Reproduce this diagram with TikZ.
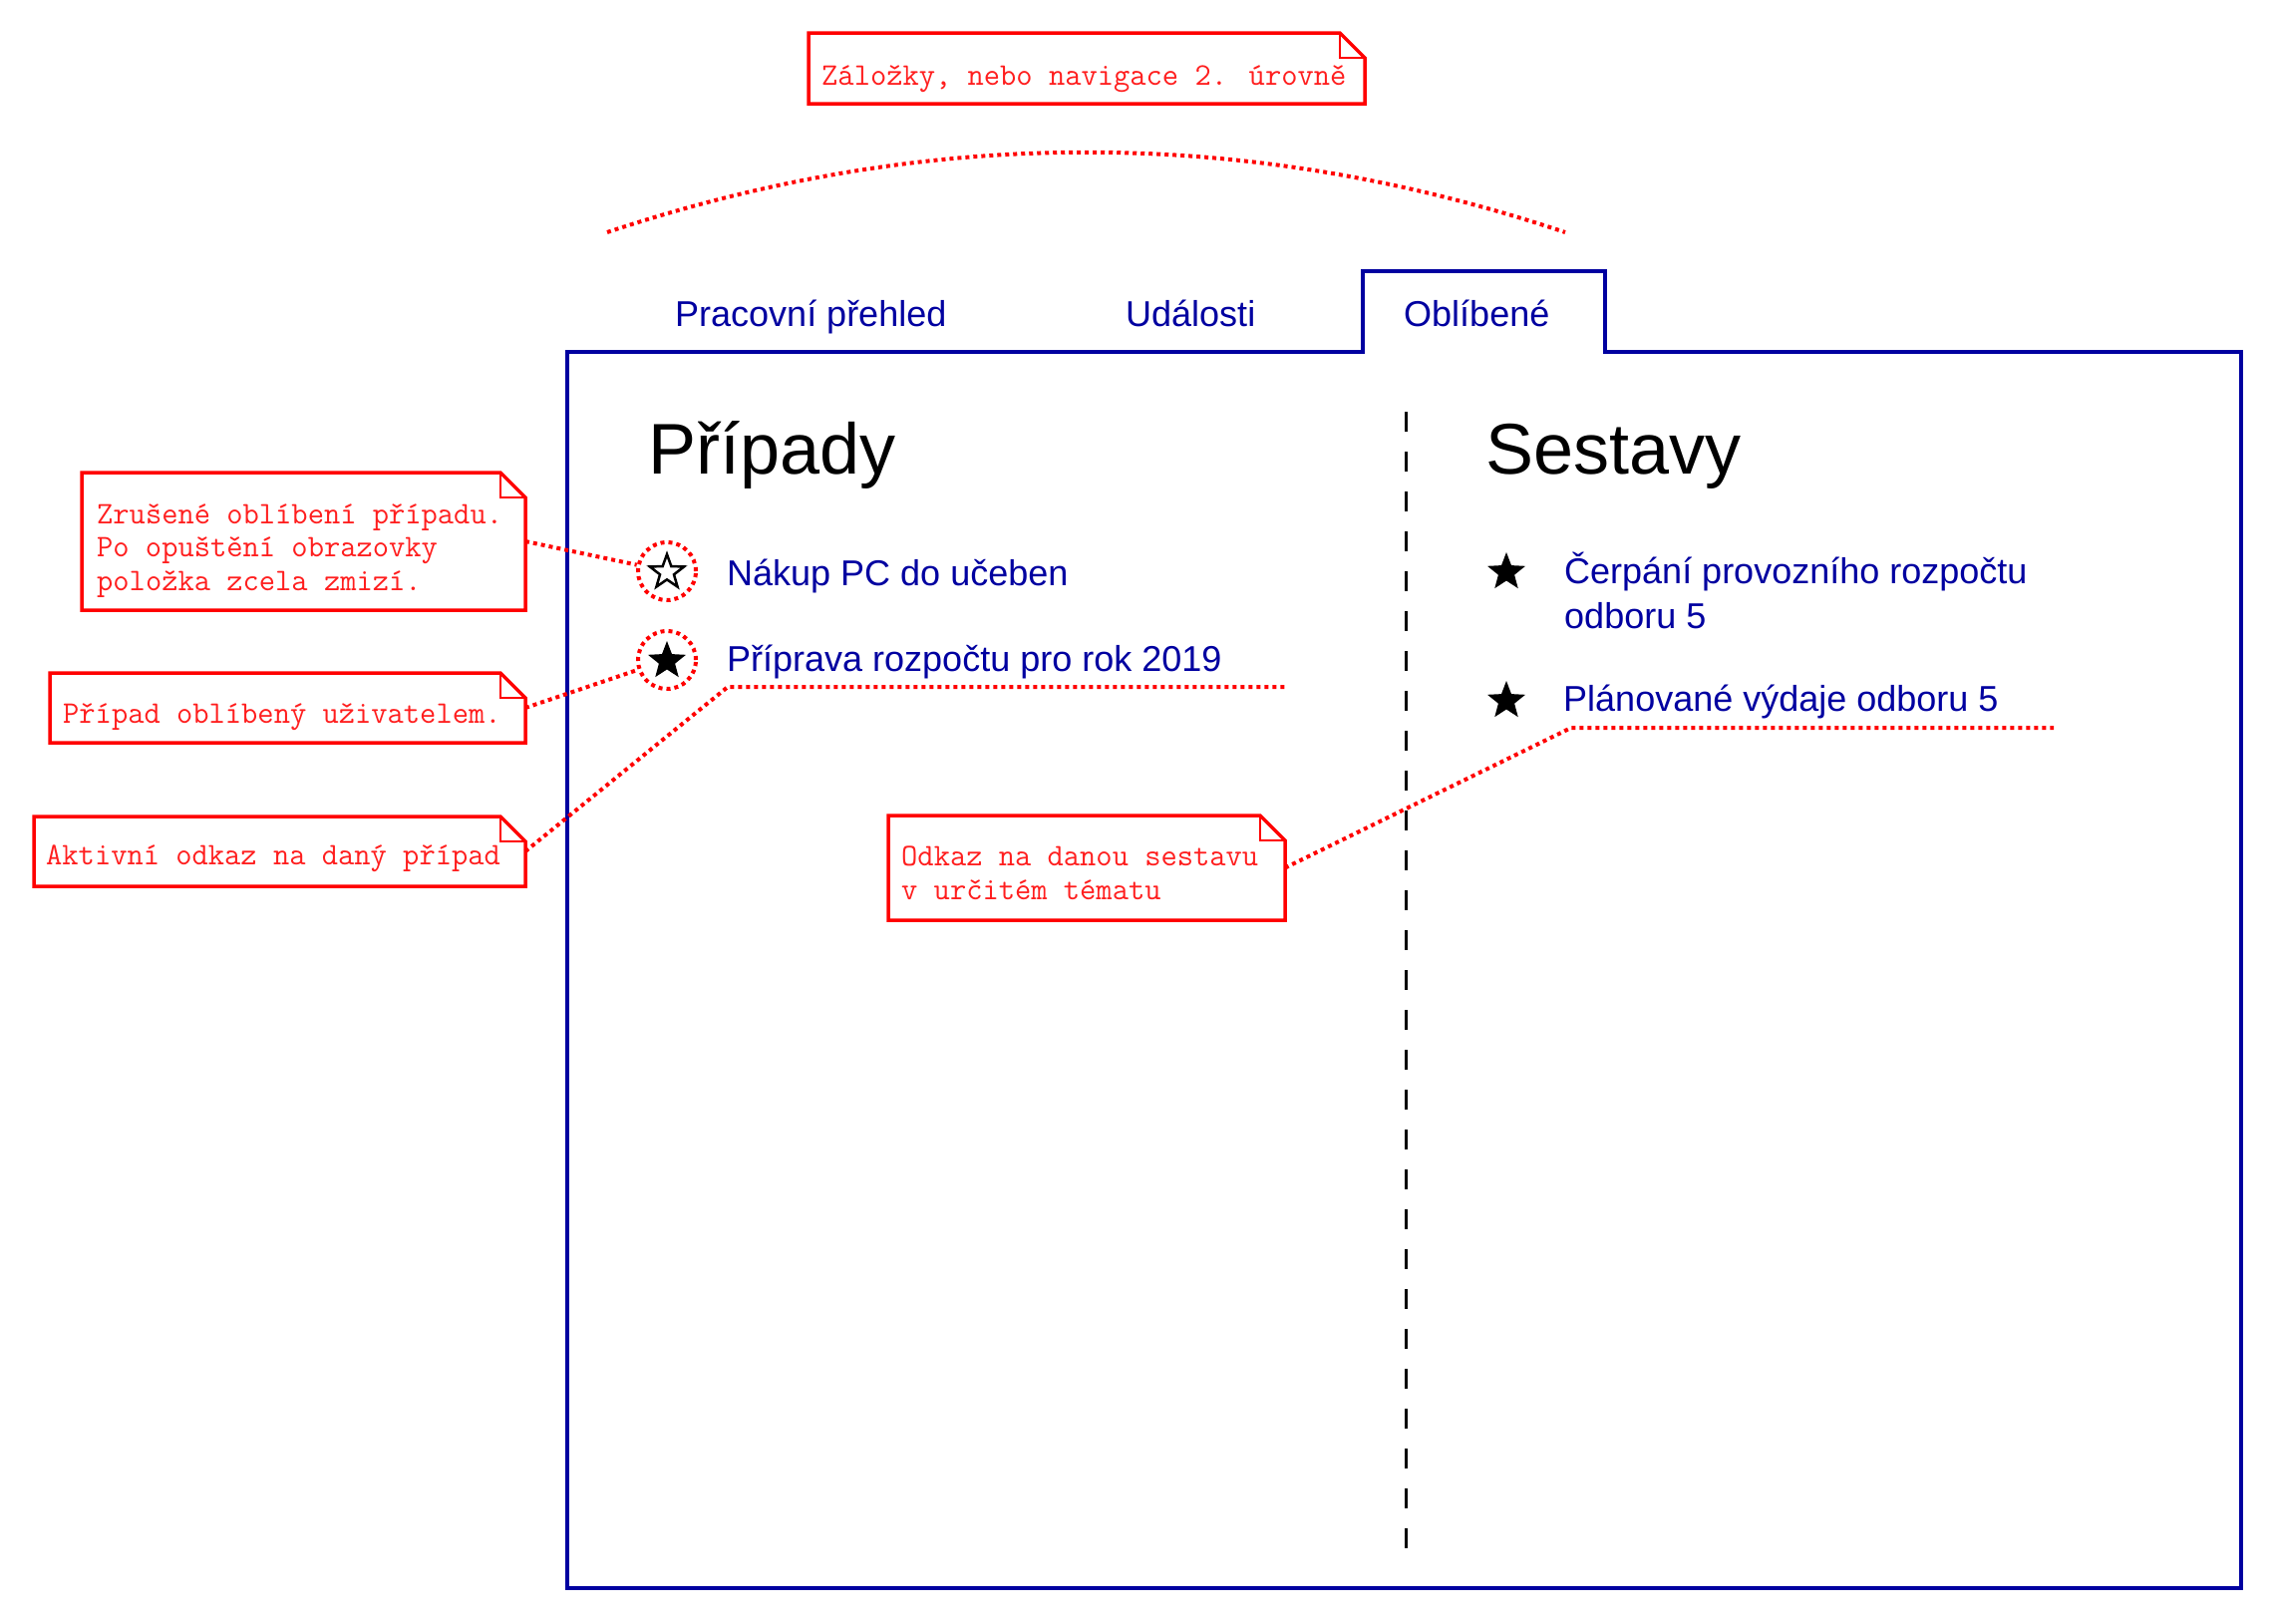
\documentclass[tikz,border=0pt]{standalone}
\usepackage{fontspec}
\setmainfont{Liberation Sans}
\usetikzlibrary{shapes.geometric}
\definecolor{navy}{RGB}{0,0,160}
\definecolor{nred}{RGB}{255,0,0}
\definecolor{ntext}{RGB}{255,30,30}
\newcommand\dogear[1]{%
  \draw[notestroke] (#1.south west) -- (#1.north west) -- ([xshift=-25pt]#1.north east) -- ([yshift=-25pt]#1.north east) -- (#1.south east) -- cycle;
  \draw[notestroke, line width=2pt] ([xshift=-25pt]#1.north east) |- ([yshift=-25pt]#1.north east);
}
\begin{document}
\begin{tikzpicture}[x=1pt,y=-1pt,
  notebox/.style={draw=none, rectangle, inner sep=0pt, outer sep=0pt, anchor=north west},
  notestroke/.style={draw=nred, line width=3.5pt, line join=miter},
  notetext/.style={text=ntext, font=\ttfamily\fontsize{31.6}{33.5}\selectfont, anchor=base west, inner sep=0pt, align=left},
  reddot/.style={draw=nred, line width=4pt, dash pattern=on 4pt off 4pt},
  item/.style={text=navy, font=\fontsize{36}{45}\selectfont, anchor=base west, inner sep=0pt, align=left},
  tablabel/.style={text=navy, font=\fontsize{36}{42}\selectfont, anchor=base west, inner sep=0pt},
  heading/.style={text=black, font=\fontsize{72}{86}\selectfont, anchor=base west, inner sep=0pt},
  favstar/.style={star, star points=5, star point ratio=2.35, minimum size=40pt, inner sep=0pt, fill=black, draw=none},
  emptystar/.style={star, star points=5, star point ratio=2.45, minimum size=36pt, inner sep=0pt, fill=white, draw=black, line width=2.5pt},
  ring/.style={circle, minimum size=58pt, inner sep=0pt, reddot}
]
\useasboundingbox (0,0) rectangle (2284,1628);

% main frame with tab
\draw[navy, line width=3.3pt, line join=miter] (569,353) -- (1367,353) -- (1367,272) -- (1610,272) -- (1610,353) -- (2248,353) -- (2248,1593) -- (569,1593) -- cycle;

% tab labels
\node[tablabel] (tab1) at (677,327) {Pracovní přehled};
\node[tablabel] (tab2) at (1129,327) {Události};
\node[tablabel] (tab3) at (1408,327) {Oblíbené};

% divider
\coordinate (divtop) at (1410,413);
\coordinate (divbot) at (1410,1553);
\draw[black, line width=3pt, dash pattern=on 20pt off 20pt] (divtop) -- (divbot);

% headings
\node[heading] (hcases) at (650,475) {Případy};
\node[heading] (hrep) at (1490,475) {Sestavy};

% left items
\node[ring] (c1) at (669,573) {};
\node[emptystar] (s1) at (669,574) {};
\node[ring] (c2) at (669,662) {};
\node[favstar] (s2) at (669,663) {};
\node[item] (i1) at (729,587) {Nákup PC do učeben};
\node[item] (i2) at (729,673) {Příprava rozpočtu pro rok 2019};

% right items
\node[favstar] (s3) at (1511,574) {};
\node[favstar] (s4) at (1511,703) {};
\node[item] (i3) at (1569,630) {Čerpání provozního rozpočtu\\odboru 5};
\node[item] (i4) at (1568,713) {Plánované výdaje odboru 5};

% notes
\node[notebox, minimum width=558pt, minimum height=71pt] (n0) at (811,33) {};
\dogear{n0}
\node[notetext] (t0) at (824,85) {Záložky, nebo navigace 2. úrovně};

\node[notebox, minimum width=445pt, minimum height=138pt] (n1) at (82,474) {};
\dogear{n1}
\node[notetext] (t1) at (97,592) {Zrušené oblíbení případu.\\Po opuštění obrazovky\\položka zcela zmizí.};

\node[notebox, minimum width=477pt, minimum height=70pt] (n2) at (50,675) {};
\dogear{n2}
\node[notetext] (t2) at (63,725) {Případ oblíbený uživatelem.};

\node[notebox, minimum width=493pt, minimum height=70pt] (n3) at (34,819) {};
\dogear{n3}
\node[notetext] (t3) at (46,867) {Aktivní odkaz na daný případ};

\node[notebox, minimum width=398pt, minimum height=105pt] (n4) at (891,818) {};
\dogear{n4}
\node[notetext] (t4) at (904,902) {Odkaz na danou sestavu\\v určitém tématu};

% connectors
\coordinate (arcL) at (609,233);
\coordinate (arcR) at (1570,233);
\draw[reddot] (arcL) .. controls (930,126) and (1250,126) .. (arcR);

\draw[reddot] (n1.east) -- (c1);
\draw[reddot] (n2.east) -- (c2);

\coordinate (u1a) at (730,689);
\coordinate (u1b) at (1290,689);
\draw[reddot] (n3.east) -- (u1a) -- (u1b);

\coordinate (u2a) at (1576,730);
\coordinate (u2b) at (2060,730);
\draw[reddot] (n4.east) -- (u2a) -- (u2b);
\end{tikzpicture}
\end{document}
